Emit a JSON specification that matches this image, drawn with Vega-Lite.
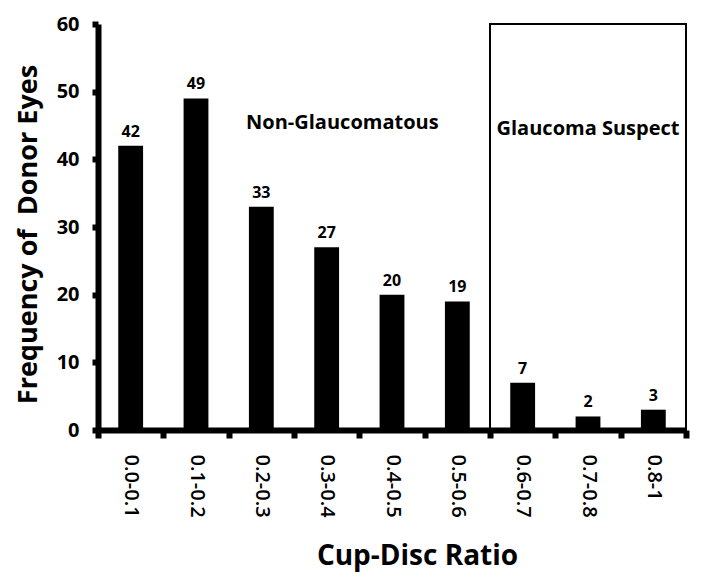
{
  "$schema": "https://vega.github.io/schema/vega-lite/v6.json",
  "width": 588,
  "height": 406,
  "autosize": {"type": "none"},
  "padding": {"left": 98, "top": 24, "right": 18, "bottom": 155},
  "background": "white",
  "config": {
    "view": {"stroke": null},
    "font": "Open Sans",
    "axis": {"grid": false}
  },
  "datasets": {
    "bars": [
      {"ratio": "0.0-0.1", "count": 42},
      {"ratio": "0.1-0.2", "count": 49},
      {"ratio": "0.2-0.3", "count": 33},
      {"ratio": "0.3-0.4", "count": 27},
      {"ratio": "0.4-0.5", "count": 20},
      {"ratio": "0.5-0.6", "count": 19},
      {"ratio": "0.6-0.7", "count": 7},
      {"ratio": "0.7-0.8", "count": 2},
      {"ratio": "0.8-1", "count": 3}
    ],
    "box": [{"x0": 6, "x1": 9, "y0": 0, "y1": 60}],
    "notes": [
      {"pos": 3.74, "val": 45.4, "label": "Non-Glaucomatous"},
      {"pos": 7.5, "val": 44.5, "label": "Glaucoma Suspect"}
    ]
  },
  "layer": [
    {
      "data": {"name": "bars"},
      "layer": [
        {
          "mark": {"type": "bar", "color": "black", "width": {"band": 0.38}},
          "encoding": {
            "x": {
              "field": "ratio", "type": "nominal", "sort": null,
              "scale": {"paddingInner": 0, "paddingOuter": 0},
              "axis": {
                "title": "Cup-Disc Ratio",
                "titleFontSize": 28, "titleFontWeight": "bold", "titleColor": "black",
                "titleX": 319, "titleY": 126, "titleBaseline": "middle",
                "labelAngle": 90, "labelAlign": "left", "labelBaseline": "middle",
                "labelFontSize": 20, "labelFontWeight": 600, "labelColor": "black",
                "labelPadding": 16,
                "domainColor": "black", "domainWidth": 6,
                "tickColor": "black", "tickWidth": 6, "tickSize": 8,
                "tickBand": "extent"
              }
            },
            "y": {
              "field": "count", "type": "quantitative",
              "scale": {"domain": [0, 60], "nice": false},
              "axis": {
                "title": "Frequency of\u00a0 Donor Eyes",
                "titleFontSize": 27, "titleFontWeight": "bold", "titleColor": "black",
                "titlePadding": 14, "titleY": 210,
                "values": [0, 10, 20, 30, 40, 50, 60],
                "labelFontSize": 20, "labelFontWeight": "bold", "labelColor": "black",
                "labelPadding": 13,
                "domainColor": "black", "domainWidth": 6,
                "tickColor": "black", "tickWidth": 6, "tickSize": 6
              }
            }
          }
        },
        {
          "mark": {"type": "text", "dy": -14, "fontSize": 16, "fontWeight": "bold", "color": "black"},
          "encoding": {
            "x": {"field": "ratio", "type": "nominal", "sort": null},
            "y": {"field": "count", "type": "quantitative"},
            "text": {"field": "count", "type": "quantitative"}
          }
        }
      ]
    },
    {
      "data": {"name": "box"},
      "mark": {"type": "rect", "fill": null, "fillOpacity": 0, "stroke": "black", "strokeWidth": 2},
      "encoding": {
        "x": {"field": "x0", "type": "quantitative", "scale": {"domain": [0, 9], "nice": false}, "axis": null},
        "x2": {"field": "x1"},
        "y": {"field": "y0", "type": "quantitative"},
        "y2": {"field": "y1"}
      }
    },
    {
      "data": {"name": "notes"},
      "mark": {"type": "text", "fontSize": 20, "fontWeight": "bold", "color": "black"},
      "encoding": {
        "x": {"field": "pos", "type": "quantitative", "scale": {"domain": [0, 9], "nice": false}, "axis": null},
        "y": {"field": "val", "type": "quantitative"},
        "text": {"field": "label", "type": "nominal"}
      }
    }
  ],
  "resolve": {"scale": {"x": "independent"}}
}
